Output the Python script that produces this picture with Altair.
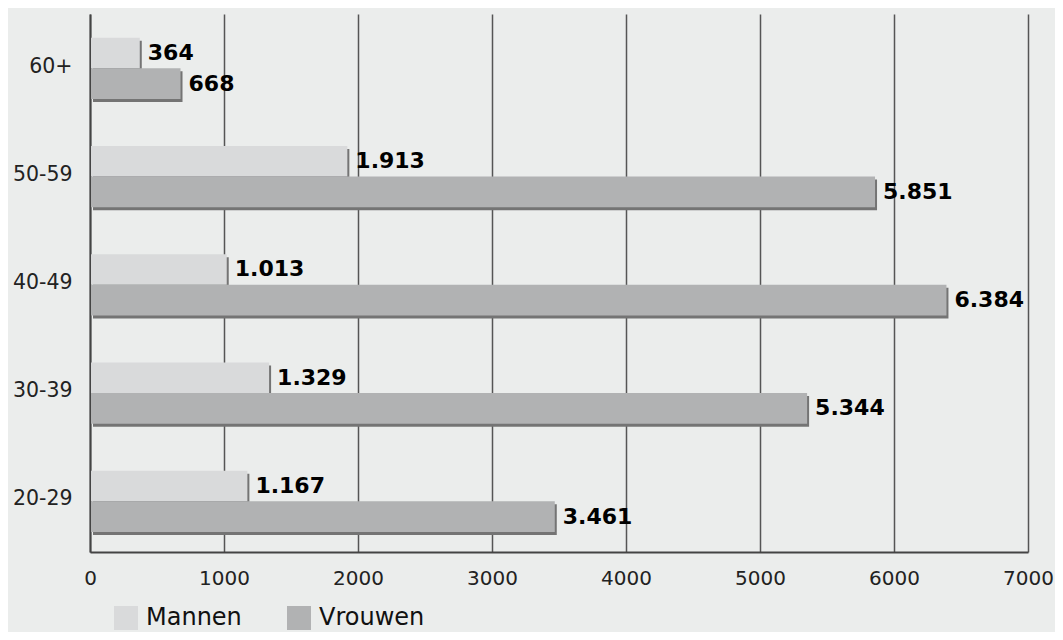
import altair as alt
import pandas as pd

categories = ["60+", "50-59", "40-49", "30-39", "20-29"]
mannen = [364, 1913, 1013, 1329, 1167]
vrouwen = [668, 5851, 6384, 5344, 3461]
series = ["Mannen", "Vrouwen"]
colors = ["#d9dadb", "#b1b2b3"]

rows = []
for c, m, v in zip(categories, mannen, vrouwen):
    for s, val in zip(series, [m, v]):
        rows.append({"cat": c, "serie": s, "value": val,
                     "label": f"{val:,}".replace(",", ".")})
df = pd.DataFrame(rows)

FONT = "DejaVu Sans"
H = 538
PI = 0.43
step = H / 5.0
bw = step * (1 - PI)
SHIFT = 2

y_enc = alt.Y("cat:N", sort=categories, title=None,
              scale=alt.Scale(paddingInner=PI),
              axis=alt.Axis(ticks=False, labelFontSize=20.5, labelColor="#222",
                            labelFont=FONT, labelPadding=18, domainColor="#444",
                            domainWidth=2, grid=False))
yoff = alt.YOffset("serie:N", sort=series,
                   scale=alt.Scale(paddingInner=0, paddingOuter=0,
                                   range=[SHIFT, bw + SHIFT]))
yoff_sh = alt.YOffset("serie:N", sort=series,
                      scale=alt.Scale(paddingInner=0, paddingOuter=0,
                                      range=[SHIFT + 3, bw + SHIFT + 3]))
yoff_tx = alt.YOffset("serie:N", sort=series,
                      scale=alt.Scale(type="point", padding=0,
                                      range=[bw / 4 + SHIFT, 3 * bw / 4 + SHIFT]))
x_enc = alt.X("value:Q", title=None,
              scale=alt.Scale(domain=[0, 7000], nice=False),
              axis=alt.Axis(values=list(range(0, 7001, 1000)), ticks=False,
                            labelFontSize=20, labelColor="#222", labelFont=FONT,
                            labelPadding=16, labelFlush=False, domainColor="#444",
                            domainWidth=2, grid=True, gridColor="#555", gridWidth=1.5,
                            format="d"))

base = alt.Chart(df)

shadow = base.mark_bar(color="#747474", xOffset=3, x2Offset=3).encode(
    x=x_enc, y=y_enc, yOffset=yoff_sh)

bars = base.mark_bar(xOffset=1).encode(
    x=x_enc, y=y_enc, yOffset=yoff,
    color=alt.Color("serie:N", sort=series,
                    scale=alt.Scale(domain=series, range=colors),
                    legend=alt.Legend(title=None, orient="none", legendX=24, legendY=592,
                                      direction="horizontal", symbolType="square",
                                      symbolSize=576, symbolStrokeWidth=0,
                                      labelFontSize=24, labelFont=FONT, labelColor="#111",
                                      labelOffset=8, columnPadding=45)))

text = base.mark_text(align="left", baseline="middle", dx=9, font=FONT,
                      fontWeight="bold", fontSize=22, color="#000").encode(
    x=x_enc, y=y_enc, yOffset=yoff_tx, text="label:N")

chart = alt.layer(shadow, bars, text).resolve_scale(yOffset="independent").properties(
    width=938, height=H,
    background="#ebedec",
    autosize=alt.AutoSizeParams(type="none"),
    padding={"left": 82, "top": 6, "right": 27, "bottom": 80},
).configure_view(stroke=None)

chart.save("out.html", embed_options={"renderer": "svg", "actions": False})
